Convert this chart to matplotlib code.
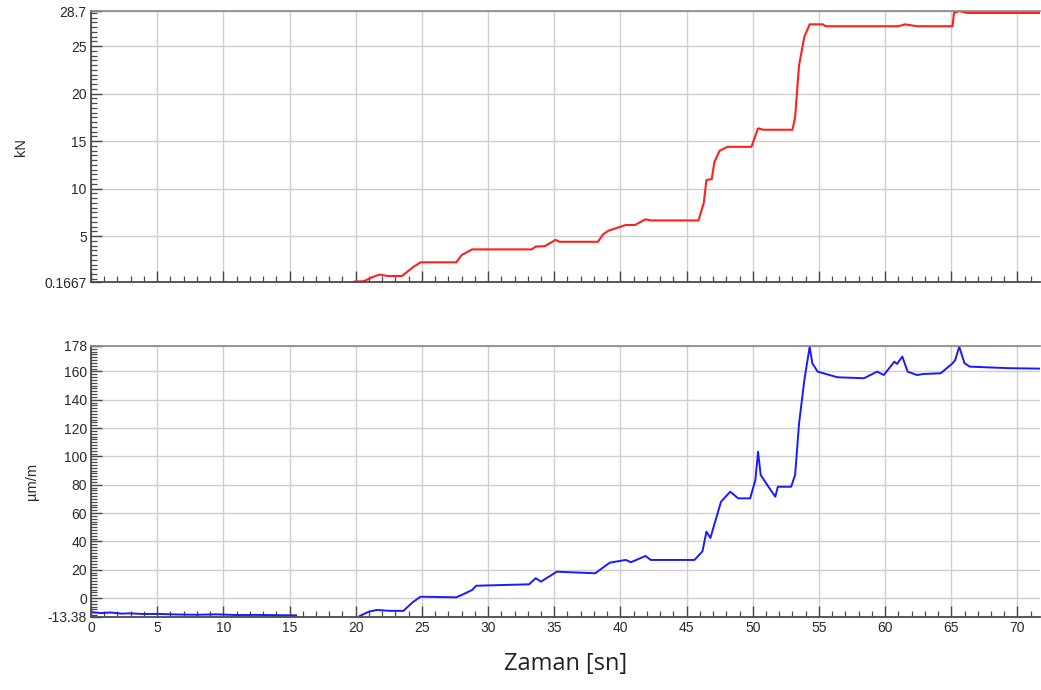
import matplotlib
matplotlib.use("Agg")
import matplotlib.pyplot as plt
import numpy as np
from matplotlib.ticker import MultipleLocator

# ---- data ----
t_force = [19.9, 20.6, 21.3, 21.8, 22.4, 23.5, 24.3, 24.9, 27.6, 28.0, 28.8, 33.3, 33.6, 34.3, 35.1, 35.4,
           38.3, 38.7, 39.1, 40.4, 41.1, 41.9, 42.3, 45.9, 46.3, 46.5, 46.9, 47.1, 47.5, 48.1, 49.9,
           50.4, 50.8, 53.0, 53.2, 53.5, 53.9, 54.3, 55.3, 55.5, 61.0, 61.5, 62.4, 65.1, 65.2, 65.6, 66.2, 71.7]
kn_force = [0.2, 0.25, 0.7, 0.95, 0.8, 0.8, 1.7, 2.24, 2.24, 3.0, 3.6, 3.6, 3.9, 3.95, 4.6, 4.4,
            4.4, 5.2, 5.57, 6.17, 6.17, 6.77, 6.65, 6.65, 8.5, 10.9, 11.0, 12.8, 14.0, 14.4, 14.4,
            16.35, 16.2, 16.2, 17.5, 23.0, 26.0, 27.3, 27.3, 27.1, 27.1, 27.3, 27.1, 27.1, 28.5, 28.7, 28.5, 28.5]

t_strain = [0.0, 0.8, 1.5, 2.3, 3.0, 4.0, 5.0, 6.5, 8.0, 9.5, 11.0, 12.5, 14.0, 15.5,
            np.nan,
            20.3, 21.0, 21.6, 22.5, 23.6, 24.3, 24.9, 27.6, 28.2, 28.8, 29.1, 33.1, 33.6, 34.0, 35.2,
            38.1, 39.2, 40.4, 40.8, 41.9, 42.3, 45.6, 46.2, 46.5, 46.8, 47.6, 48.3, 48.9, 49.8,
            50.2, 50.4, 50.6, 51.1, 51.7, 51.9, 52.9, 53.2, 53.5, 53.9, 54.3, 54.5, 54.9, 56.4,
            58.4, 59.4, 59.9, 60.7, 60.9, 61.3, 61.7, 62.4, 62.9, 64.2, 65.1, 65.3, 65.6, 66.0,
            66.4, 69.4, 71.7]
um_strain = [-10.0, -10.6, -10.2, -11.0, -10.8, -11.3, -11.2, -11.6, -11.8, -11.5, -12.0, -11.9, -12.1, -12.2,
             np.nan,
             -12.7, -9.6, -8.4, -9.0, -9.1, -3.0, 0.96, 0.5, 3.0, 5.7, 8.7, 9.7, 14.0, 11.6, 18.6,
             17.5, 25.0, 26.9, 25.3, 29.7, 26.9, 26.9, 33.0, 46.9, 42.4, 68.0, 75.1, 70.4, 70.4,
             83.4, 103.4, 86.9, 79.8, 71.6, 78.6, 78.6, 86.9, 123.4, 154.0, 177.5, 165.8, 159.9, 155.9,
             155.2, 159.9, 157.5, 166.9, 165.3, 170.5, 159.9, 157.5, 158.2, 158.7, 165.8, 168.1, 177.5, 165.8,
             163.4, 162.3, 162.0]

force_ticks = [0.1667, 5, 10, 15, 20, 25, 28.7]
force_tick_labels = ["0.1667", "5", "10", "15", "20", "25", "28.7"]
strain_ticks = [-13.38, 0, 20, 40, 60, 80, 100, 120, 140, 160, 178]
strain_tick_labels = ["-13.38", "0", "20", "40", "60", "80", "100", "120", "140", "160", "178"]
x_ticks = [0, 5, 10, 15, 20, 25, 30, 35, 40, 45, 50, 55, 60, 65, 70]

plt.rcParams['font.family'] = ['Liberation Sans', 'DejaVu Sans']

fig = plt.figure(figsize=(10.41, 6.90), dpi=100)
ax1 = fig.add_axes([0.0874, 0.5913, 0.9116, 0.3927])
ax2 = fig.add_axes([0.0874, 0.1058, 0.9116, 0.3928])

XMAX = 71.7
frame_col = "#4a4a4a"
grid_col = "#cfcfcf"
lab_col = "#2a2a2a"

def style(ax, yticks, ylabels, ylim, yminor):
    ax.set_xlim(0, XMAX)
    ax.set_ylim(*ylim)
    ax.set_yticks(yticks)
    ax.set_yticklabels(ylabels)
    ax.set_xticks(x_ticks)
    ax.xaxis.set_minor_locator(MultipleLocator(1))
    ax.yaxis.set_minor_locator(MultipleLocator(yminor))
    ax.grid(True, which='major', color=grid_col, lw=1.0)
    ax.set_axisbelow(True)
    ax.tick_params(which='major', direction='in', length=8, width=1.0, color=frame_col,
                   labelsize=10, labelcolor=lab_col, right=False, top=False, pad=3)
    ax.tick_params(which='minor', direction='in', length=4, width=0.9, color=frame_col,
                   right=False, top=False)
    for s in ['left', 'bottom']:
        ax.spines[s].set_color(frame_col)
        ax.spines[s].set_linewidth(1.3)
    ax.spines['top'].set_color('#888888')
    ax.spines['top'].set_linewidth(1.2)
    ax.spines['right'].set_visible(False)

style(ax1, force_ticks, force_tick_labels, (0.1667, 28.7), 0.5)
style(ax2, strain_ticks, strain_tick_labels, (-13.38, 178), 2)

ax1.plot(t_force, kn_force, color='#ff2020', lw=1.5)
ax2.plot(t_strain, um_strain, color='#1a1aff', lw=1.4)

ax1.set_xticklabels([])
ax1.set_ylabel("kN", fontsize=10.5, color=lab_col, labelpad=12)
ax2.set_ylabel("µm/m", fontsize=10.5, color=lab_col, labelpad=6)
ax2.set_xlabel("Zaman [sn]", fontsize=17, family=['Open Sans', 'DejaVu Sans'], color='#222222', labelpad=12)

fig.savefig("out.png", dpi=100)
